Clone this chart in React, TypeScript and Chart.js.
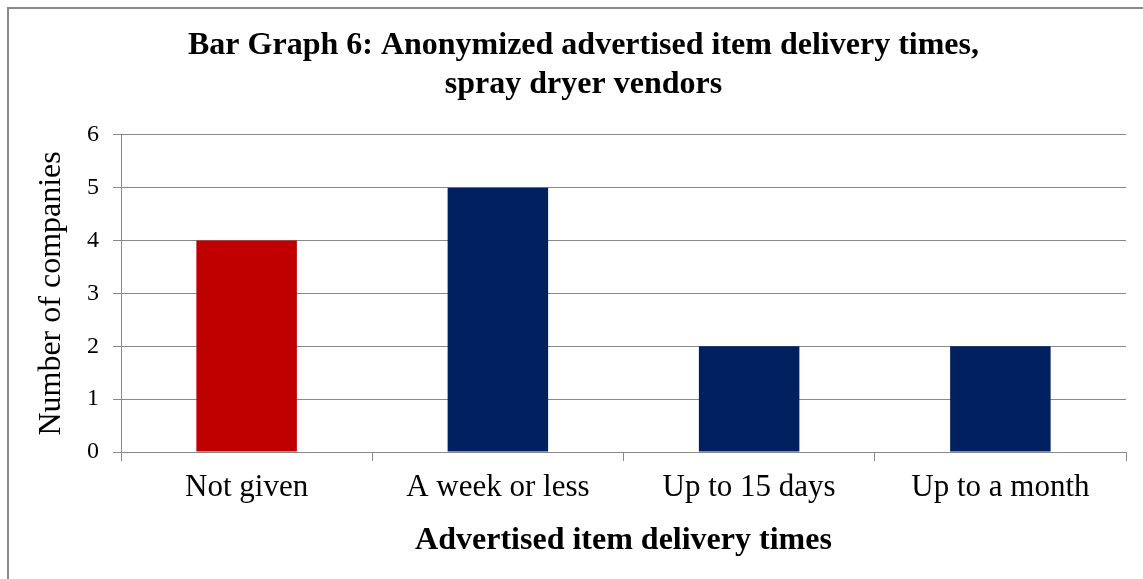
import React, { useEffect, useRef } from "react";
import { Chart, registerables } from "chart.js";

Chart.register(...registerables);

const categories = ["Not given", "A week or less", "Up to 15 days", "Up to a month"];
const companies = [4, 5, 2, 2];
const barColors = ["#C00000", "#002060", "#002060", "#002060"];
const titleLines = [
  "Bar Graph 6: Anonymized advertised item delivery times,",
  "spray dryer vendors",
];
const xTitle = "Advertised item delivery times";
const yTitle = "Number of companies";
const yMin = 0;
const yMax = 6;
const yStep = 1;

const FONT = "'Liberation Serif', 'Times New Roman', serif";
const GRID = "#898989";

const titleShift = {
  id: "titleShift",
  afterLayout(chart: any) {
    const t = chart.titleBlock;
    if (t) {
      t.left = 41;
    }
  },
};

export default function App() {
  const ref = useRef<HTMLCanvasElement | null>(null);

  useEffect(() => {
    if (!ref.current) return;
    const chart = new Chart(ref.current, {
      type: "bar",
      data: {
        labels: categories,
        datasets: [
          {
            data: companies,
            backgroundColor: barColors,
            borderWidth: 0,
            categoryPercentage: 1,
            barPercentage: 0.4,
          },
        ],
      },
      plugins: [titleShift],
      options: {
        responsive: false,
        animation: false,
        layout: { padding: { left: 0, right: 17, top: 0, bottom: 0 } },
        plugins: {
          legend: { display: false },
          tooltip: { enabled: false },
          title: {
            display: true,
            text: titleLines,
            color: "#000",
            font: { family: FONT, size: 32, weight: "bold", lineHeight: 1.2 },
            padding: { top: 27, bottom: 31 },
          },
        },
        scales: {
          x: {
            afterFit: (s: any) => {
              s.height = 127;
            },
            grid: {
              display: true,
              drawOnChartArea: false,
              drawTicks: true,
              tickLength: 9,
              color: GRID,
              offset: true,
            },
            border: { display: true, color: GRID, width: 1 },
            ticks: {
              color: "#000",
              font: { family: FONT, size: 31 },
              padding: 8,
              maxRotation: 0,
              autoSkip: false,
            },
            title: {
              display: true,
              text: xTitle,
              color: "#000",
              font: { family: FONT, size: 32, weight: "bold", lineHeight: 1.2 },
              padding: { top: 0, bottom: 19 },
            },
          },
          y: {
            min: yMin,
            max: yMax,
            afterFit: (s: any) => {
              s.width = 121;
            },
            grid: {
              color: GRID,
              drawTicks: true,
              tickLength: 8,
            },
            border: { display: true, color: GRID, width: 1 },
            ticks: {
              stepSize: yStep,
              color: "#000",
              font: { family: FONT, size: 24 },
              padding: 14,
            },
            title: {
              display: true,
              text: yTitle,
              color: "#000",
              font: { family: FONT, size: 32, lineHeight: 1.2 },
              padding: { top: 32, bottom: 0 },
            },
          },
        },
      },
    });
    return () => chart.destroy();
  }, []);

  return (
    <div style={{ position: "absolute", left: 0, top: 0, width: 1143, height: 579, overflow: "hidden", background: "#fff" }}>
      <div
        style={{
          position: "absolute",
          left: 7,
          top: 7,
          width: 1200,
          height: 650,
          border: "2px solid #888888",
          boxSizing: "border-box",
        }}
      />
      <canvas ref={ref} width={1143} height={579} style={{ position: "absolute", left: 0, top: 0, width: 1143, height: 579 }} />
    </div>
  );
}
